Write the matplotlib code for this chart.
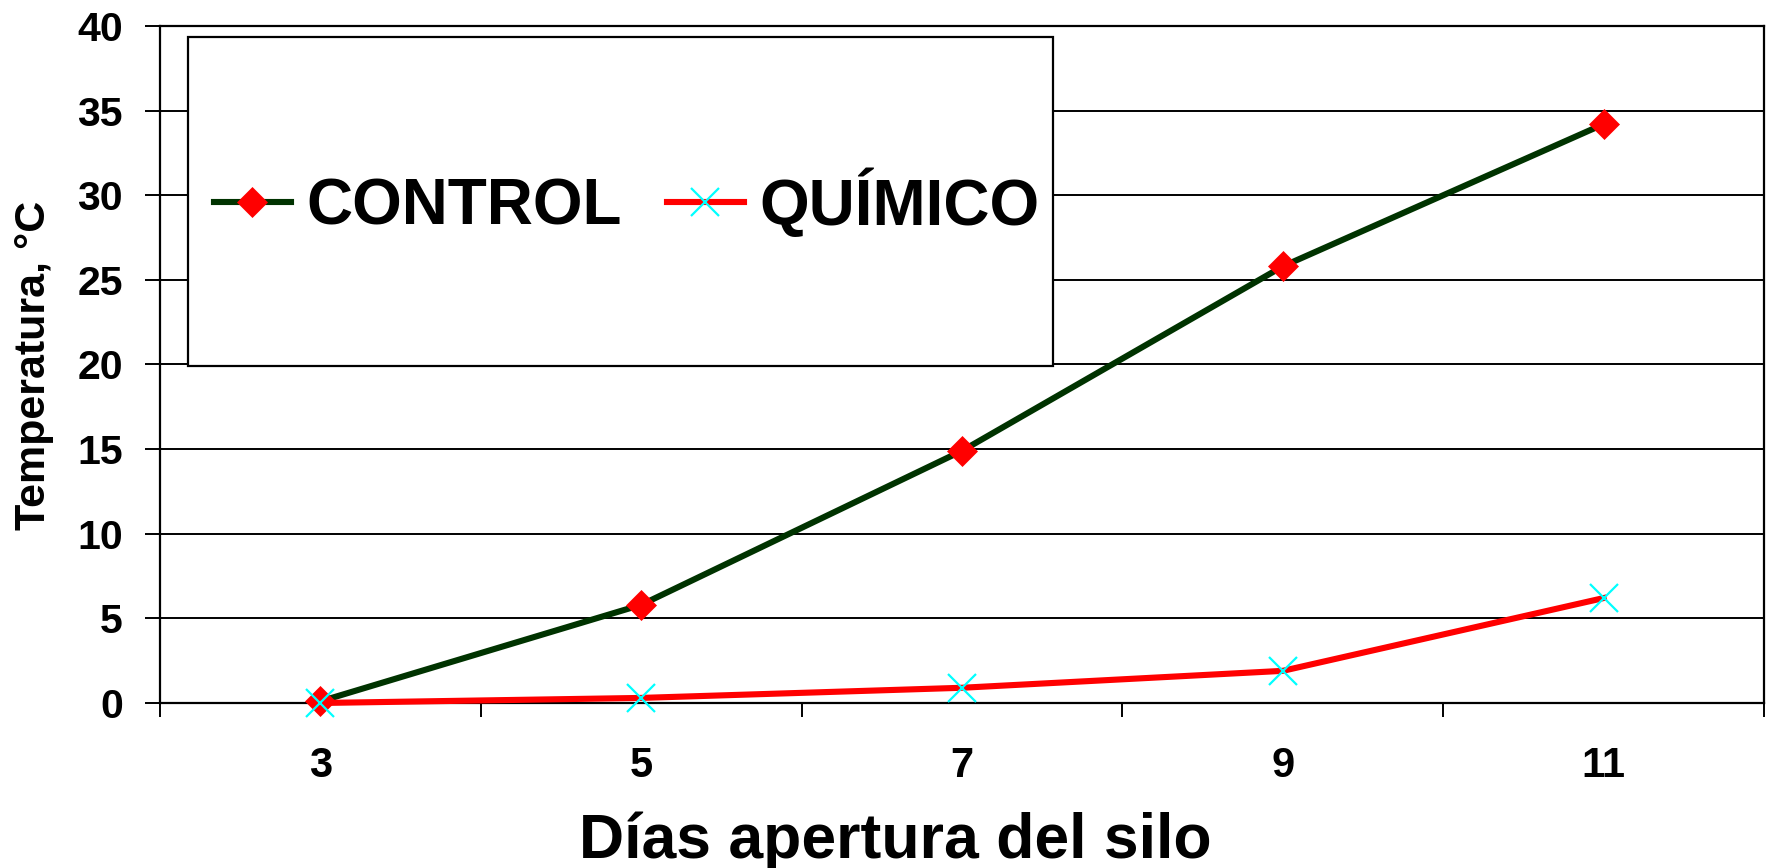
import matplotlib
matplotlib.use("Agg")
import matplotlib.pyplot as plt
from matplotlib.patches import Rectangle

plt.rcParams['font.family'] = ['Liberation Sans', 'DejaVu Sans']
plt.rcParams['font.weight'] = 'bold'

dias = ['3', '5', '7', '9', '11']
control = [0.1, 5.8, 14.9, 25.8, 34.2]
quimico = [0.0, 0.3, 0.9, 1.9, 6.2]
yticks = [0, 5, 10, 15, 20, 25, 30, 35, 40]

W, H = 1766, 868
fig = plt.figure(figsize=(W / 100, H / 100), dpi=100)
ax = fig.add_axes([160 / W, 1 - 703 / H, 1604 / W, 677 / H])

x = list(range(len(dias)))
ax.plot(x, control, color='#003300', lw=4.4, marker='D', ms=15,
        mfc='#FF0000', mec='#FF0000', mew=0.5, label='CONTROL',
        clip_on=False, zorder=4)
ax.plot(x, quimico, color='#FF0000', lw=4.4, marker='x', ms=20,
        mfc='#00FFFF', mec='#00FFFF', mew=1.6, label='QUÍMICO',
        clip_on=False, zorder=5)

ax.set_xlim(-0.5, len(dias) - 0.5)
ax.set_ylim(0, 40)
ax.set_yticks(yticks)
ax.set_yticklabels([str(v) for v in yticks])
ax.set_xticks([i - 0.5 for i in range(len(dias) + 1)])
ax.set_xticklabels([])
ax.set_xticks(x, minor=True)
ax.set_xticklabels(dias, minor=True)
ax.tick_params(axis='x', which='major', length=10, width=1.4, color='black')
ax.tick_params(axis='x', which='minor', length=0, pad=31, labelsize=30)
ax.tick_params(axis='y', length=10.8, width=1.4, pad=16, labelsize=29.5)
for lab in ax.get_xticklabels(minor=True) + ax.get_yticklabels():
    lab.set_fontweight('bold')

ax.yaxis.grid(True, color='black', lw=1.4)
ax.set_axisbelow(True)
for s in ax.spines.values():
    s.set_color('black')
    s.set_linewidth(1.6)

# legend frame
box = Rectangle((188 / W, 1 - 366 / H), (1053 - 188) / W, (366 - 37) / H,
                transform=fig.transFigure, facecolor='white', edgecolor='black',
                lw=1.6, zorder=3)
ax.add_artist(box)
box.set_clip_on(False)

leg = ax.legend(loc='center left', bbox_to_anchor=(214 / W, 1 - 203 / H),
                bbox_transform=fig.transFigure, ncol=2, frameon=False,
                borderpad=0, borderaxespad=0, handlelength=1.2,
                handletextpad=0.25, columnspacing=0.7,
                prop={'size': 46, 'weight': 'bold'})
leg.set_zorder(6)

fig.text(895 / W, 1 - 858 / H, 'Días apertura del silo', ha='center',
         va='baseline', fontsize=45, fontweight='bold')
fig.text(45 / W, 1 - 365 / H, 'Temperatura, °C', rotation=90,
         rotation_mode='anchor', ha='center', va='baseline', fontsize=31,
         fontweight='bold')

fig.savefig('out.png', dpi=100)
